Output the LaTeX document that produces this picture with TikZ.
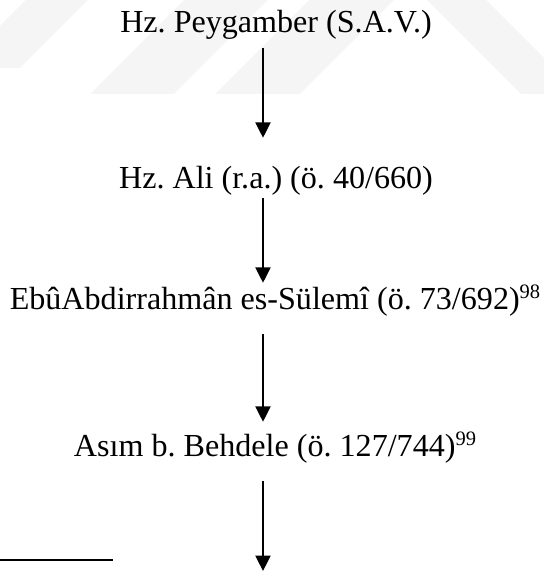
\documentclass[tikz,border=0pt]{standalone}
\usepackage{fontspec}
\setmainfont{Liberation Serif}
\usepackage{tikz}
\usetikzlibrary{positioning, arrows.meta, calc}

\begin{document}
\frenchspacing
\begin{tikzpicture}[
    x=1pt, y=-1pt,
    >={Triangle[length=15.5pt, width=15pt]},
    narrator/.style={anchor=base, inner sep=0pt, text height=22pt, text depth=7pt,
      font=\fontsize{32.1}{38}\selectfont},
    link/.style={->, line width=2.4pt},
    mark98/.style={fill=black!4, draw=none},
  ]
  \useasboundingbox (0,0) rectangle (544,572);

  %% --- faint watermark bands at the top ---
  \fill[mark98] (26,0) -- (88,0) -- (20,68) -- (0,68) -- (0,26) -- cycle;
  \fill[mark98] (90,94) -- (174,94) -- (268,0) -- (184,0) -- cycle;
  \fill[mark98] (215,94) -- (300,94) -- (394,0) -- (309,0) -- cycle;
  \fill[mark98] (427,0) -- (486,0) -- (544,58) -- (544,94) -- (521,94) -- cycle;

  %% --- chain of narrators ---
  \node[narrator] (peygamber) at (276,33) {Hz. Peygamber (S.A.V.)};
  \node[narrator] (ali) at (276,188) {Hz. Ali (r.a.) (ö. 40/660)};
  % with footnote number
  \node[narrator] (sulemi) at (275,309)
    {EbûAbdirrahmân es-Sülemî (ö. 73/692)\raisebox{11pt}{\fontsize{20.5}{20}\selectfont 98}};
  \node[narrator] (asim) at (275,456)
    {Asım b. Behdele (ö. 127/744)\raisebox{11pt}{\fontsize{20.5}{20}\selectfont 99}};

  \coordinate (col) at (263,0);
  \coordinate (next) at (263,571);

  %% --- arrows ---
  \draw[link] ([yshift=-8pt]peygamber.south -| col) -- ([yshift=28pt]ali.north -| col);
  \draw[link] ([yshift=-3pt]ali.south -| col) -- ([yshift=4pt]sulemi.north -| col);
  \draw[link] ([yshift=-18pt]sulemi.south -| col) -- ([yshift=12pt]asim.north -| col);
  \draw[link] ([yshift=-18pt]asim.south -| col) -- (next);

  % footnote rule
  \coordinate (ruleL) at (0,560);
  \coordinate (ruleR) at (113,560);
  \draw[line width=2.4pt] (ruleL) -- (ruleR);
\end{tikzpicture}
\end{document}
